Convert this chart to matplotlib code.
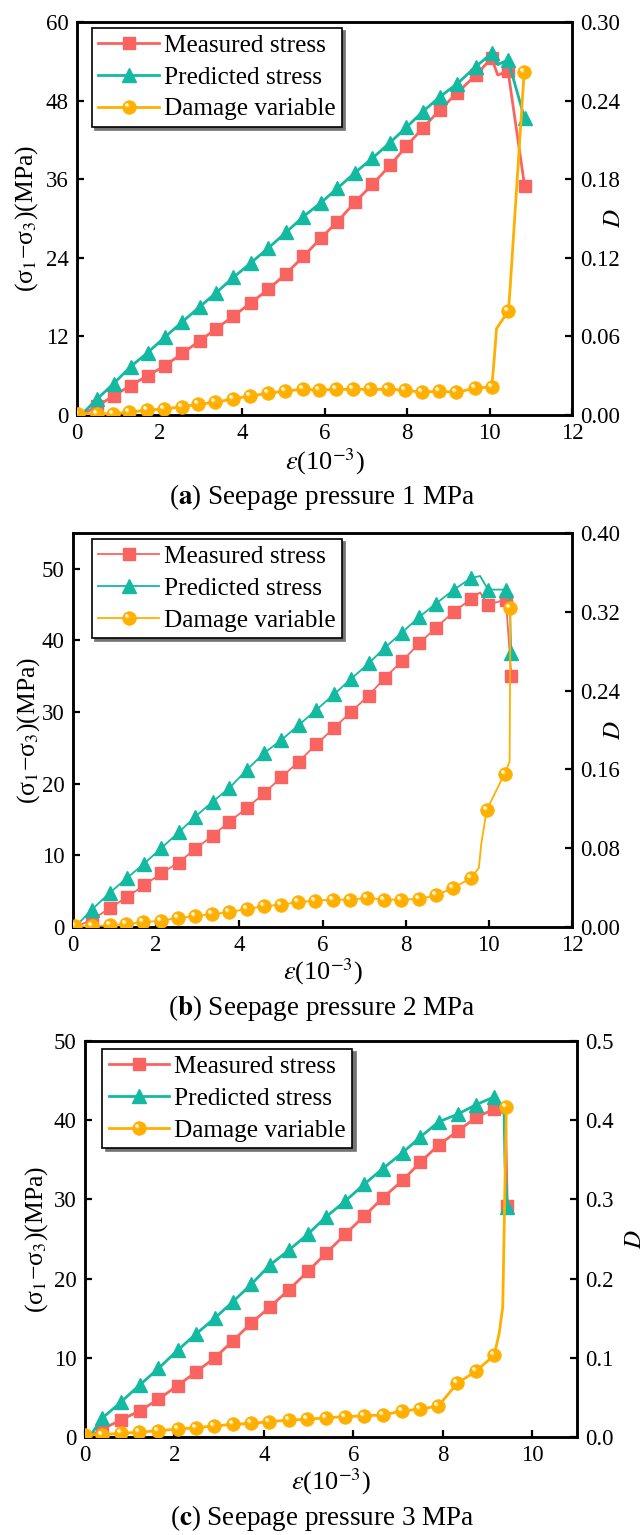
import numpy as np
import matplotlib
matplotlib.use('Agg')
import matplotlib.pyplot as plt
from matplotlib.path import Path
from matplotlib.lines import Line2D
from matplotlib.legend_handler import HandlerTuple
from matplotlib.ticker import FormatStrFormatter

plt.rcParams['font.family'] = ['Liberation Serif', 'DejaVu Serif']
plt.rcParams['mathtext.fontset'] = 'stix'

# ---------------- data ----------------
labels = ['Measured stress', 'Predicted stress', 'Damage variable']
captions = [('a', 'Seepage pressure 1 MPa'), ('b', 'Seepage pressure 2 MPa'),
            ('c', 'Seepage pressure 3 MPa')]

# panel (a)
a_x = [0.48, 0.89, 1.30, 1.71, 2.13, 2.55, 2.97, 3.38, 3.79, 4.21, 4.64, 5.07, 5.49,
       5.91, 6.31, 6.74, 7.16, 7.59, 7.98, 8.38, 8.80, 9.22, 9.67, 10.05, 10.45, 10.85]
a_meas = [1.3, 2.95, 4.5, 6.0, 7.5, 9.4, 11.3, 13.2, 15.1, 17.1, 19.2, 21.6, 24.2,
          27.0, 29.5, 32.5, 35.2, 38.1, 41.0, 43.8, 46.6, 49.2, 51.9, 54.5, 52.5, 35.0]
a_pred = [2.4, 4.8, 7.4, 9.5, 11.9, 14.2, 16.5, 18.7, 21.0, 23.2, 25.5, 27.9, 30.3,
          32.4, 34.6, 37.0, 39.2, 41.6, 43.9, 46.3, 48.6, 50.6, 53.2, 55.2, 54.2, 45.3]
a_meas_ex_x, a_meas_ex_y = [0.1, 10.2], [0.0, 51.9]
a_pred_ex_x, a_pred_ex_y = [0.1, 10.2], [0.0, 53.5]
a_dx = [0.03, 0.48, 0.88, 1.27, 1.70, 2.12, 2.55, 2.94, 3.35, 3.77, 4.19, 4.62, 5.04,
        5.47, 5.87, 6.28, 6.68, 7.10, 7.53, 7.95, 8.36, 8.78, 9.19, 9.65, 10.05, 10.46, 10.84]
a_D = [0.001, 0.0008, 0.001, 0.002, 0.0038, 0.0046, 0.0063, 0.0082, 0.0097, 0.0122,
       0.0145, 0.0165, 0.0183, 0.0196, 0.019, 0.0196, 0.0196, 0.0196, 0.0196, 0.019,
       0.0173, 0.0183, 0.0173, 0.0204, 0.0216, 0.0794, 0.2616]
a_D_ex_x, a_D_ex_y = [10.08, 10.12, 10.17, 10.50], [0.030, 0.045, 0.066, 0.097]

# panel (b)
b_x = [0.45, 0.88, 1.30, 1.71, 2.12, 2.54, 2.94, 3.36, 3.76, 4.18, 4.60, 5.01, 5.43,
       5.85, 6.28, 6.68, 7.11, 7.50, 7.91, 8.33, 8.73, 9.16, 9.57, 9.98, 10.41, 10.54]
b_meas = [1.0, 2.6, 4.2, 5.8, 7.5, 9.0, 10.9, 12.75, 14.7, 16.6, 18.7, 20.9, 23.1,
          25.5, 27.8, 30.0, 32.3, 34.8, 37.1, 39.6, 41.8, 44.0, 45.8, 45.0, 45.7, 35.1]
b_pred = [2.4, 4.75, 6.85, 8.85, 11.0, 13.2, 15.4, 17.5, 19.4, 21.95, 24.3, 26.1, 28.2,
          30.3, 32.5, 34.6, 36.8, 39.0, 41.1, 43.3, 45.15, 47.1, 48.7, 47.1, 47.1, 38.2]
b_meas_ex_x, b_meas_ex_y = [0.05, 9.79], [0.0, 46.7]
b_pred_ex_x, b_pred_ex_y = [0.05, 9.79, 10.50], [0.0, 49.0, 46.0]
b_dx = [0.05, 0.45, 0.88, 1.28, 1.69, 2.12, 2.52, 2.94, 3.35, 3.75, 4.18, 4.60, 4.99,
        5.41, 5.83, 6.25, 6.66, 7.08, 7.49, 7.88, 8.33, 8.73, 9.15, 9.57, 9.95, 10.38, 10.52]
b_D = [0.0007, 0.0007, 0.0017, 0.003, 0.0048, 0.0065, 0.0092, 0.0109, 0.0133, 0.0149,
       0.0184, 0.021, 0.0227, 0.0251, 0.0268, 0.0278, 0.0278, 0.0295, 0.0278, 0.0278,
       0.0285, 0.0322, 0.0397, 0.0498, 0.119, 0.1557, 0.324]
b_D_ex_x, b_D_ex_y = [9.76, 9.82, 10.50], [0.060, 0.085, 0.168]

# panel (c)
c_x = [0.38, 0.80, 1.22, 1.64, 2.07, 2.48, 2.90, 3.30, 3.72, 4.13, 4.56, 4.98, 5.39,
       5.82, 6.24, 6.66, 7.10, 7.50, 7.91, 8.33, 8.74, 9.15, 9.44]
c_meas = [0.97, 2.14, 3.3, 4.75, 6.5, 8.2, 10.0, 12.1, 14.4, 16.4, 18.6, 20.9, 23.2,
          25.6, 27.9, 30.2, 32.4, 34.7, 36.9, 38.6, 40.35, 41.4, 29.2]
c_pred = [2.35, 4.4, 6.55, 8.65, 10.95, 13.0, 15.0, 17.05, 19.3, 21.7, 23.6, 25.6, 27.8,
          29.8, 31.9, 33.9, 35.9, 37.9, 39.8, 40.75, 41.95, 42.95, 29.0]
c_meas_ex_x, c_meas_ex_y = [0.1, 9.40], [0.0, 40.8]
c_pred_ex_x, c_pred_ex_y = [0.1, 9.37, 9.39], [0.0, 40.8, 34.5]
c_dx = [0.0, 0.37, 0.80, 1.21, 1.64, 2.07, 2.48, 2.89, 3.30, 3.71, 4.12, 4.56, 4.97,
        5.39, 5.82, 6.23, 6.66, 7.08, 7.49, 7.90, 8.32, 8.74, 9.15, 9.42]
c_D = [0.003, 0.003, 0.0046, 0.006, 0.008, 0.010, 0.0118, 0.0139, 0.016, 0.0172,
       0.0193, 0.0214, 0.0223, 0.0244, 0.0256, 0.0269, 0.0277, 0.0328, 0.0353, 0.039,
       0.0677, 0.083, 0.1034, 0.4165]
c_D_ex_x, c_D_ex_y = [9.26, 9.34], [0.131, 0.164]

# ---------------- style ----------------
RED, TEAL, ORANGE = '#FA6460', '#14B9A1', '#FFAF00'
HL_MID, HL_TOP = '#FFD45E', '#FFF6DA'
W, H = 644, 1535
fig = plt.figure(figsize=(W / 100, H / 100), dpi=100)


def merge(x, y, ex, ey):
    xs = np.concatenate([np.asarray(x, float), np.asarray(ex, float)])
    ys = np.concatenate([np.asarray(y, float), np.asarray(ey, float)])
    flag = np.r_[np.ones(len(x), bool), np.zeros(len(ex), bool)]
    order = np.argsort(xs, kind='stable')
    return xs[order], ys[order], list(np.flatnonzero(flag[order]))


def hl_path(off, rad):
    t = np.linspace(0, 2 * np.pi, 48)
    verts = np.c_[-off + rad * np.cos(t), off + rad * np.sin(t)]
    return Path(verts, closed=True)


HL1 = hl_path(0.25, 0.25)      # pale large highlight
HL2 = hl_path(0.3125, 0.1875)  # white small highlight
MS_SQ, MS_TRI, MS_CIR = 9.2, 10.5, 9.8


def panel(box, xlim, xt, ylim, yt, dlim, dt, dfmt, data, lw, cap, cap_y,
          ylab_x, xlab_y, dlab_x, leg_anchor):
    l, r, t, b = box
    ax = fig.add_axes([l / W, 1 - b / H, (r - l) / W, (b - t) / H])
    ax2 = ax.twinx()
    (x, meas, pred, mex, mey, pex, pey, dx, D, dex, dey) = data

    mx, my, mi = merge(x, meas, mex, mey)
    px, py, pi = merge(x, pred, pex, pey)
    qx, qy, qi = merge(dx, D, dex, dey)

    ax.plot(mx, my, color=RED, lw=lw, marker='s', ms=MS_SQ, markevery=mi,
            mec=RED, mfc=RED, zorder=3)
    ax.plot(px, py, color=TEAL, lw=lw, marker='^', ms=MS_TRI, markevery=pi,
            mec=TEAL, mfc=TEAL, zorder=4)
    ax2.plot(qx, qy, color=ORANGE, lw=lw, marker='o', ms=MS_CIR, markevery=qi,
             mec=ORANGE, mfc=ORANGE, mew=0.5, zorder=3)
    ax2.plot(qx, qy, ls='none', marker=HL1, ms=MS_CIR * 0.62, markevery=qi,
             mfc=HL_MID, mec='none', zorder=4)
    ax2.plot(qx, qy, ls='none', marker=HL2, ms=MS_CIR * 0.64, markevery=qi,
             mfc=HL_TOP, mec='none', zorder=5)

    ax.set_xlim(*xlim)
    ax.set_ylim(*ylim)
    ax2.set_ylim(*dlim)
    ax.set_xticks(xt)
    ax.set_yticks(yt)
    ax2.set_yticks(dt)
    ax2.yaxis.set_major_formatter(FormatStrFormatter(dfmt))

    for a in (ax, ax2):
        for s in a.spines.values():
            s.set_linewidth(1.8)
    ax.tick_params(direction='in', length=5, width=1.6, labelsize=16.5, pad=6,
                   top=False, right=False)
    ax2.tick_params(direction='in', length=5, width=1.6, labelsize=16.5, pad=6)

    ax.set_xlabel(r'$\varepsilon$(10$^{-3}$)', fontsize=19)
    ax.xaxis.set_label_coords(0.5, xlab_y)
    ax.set_ylabel('(σ$_1$−σ$_3$)(MPa)', fontsize=18.5)
    ax.yaxis.set_label_coords(ylab_x, 0.5)
    ax2.set_ylabel('$D$', fontsize=18)
    ax2.yaxis.set_label_coords(dlab_x, 0.5)

    # legend proxies (same styles, no markevery)
    p1 = Line2D([], [], color=RED, lw=lw, marker='s', ms=MS_SQ, mfc=RED, mec=RED)
    p2 = Line2D([], [], color=TEAL, lw=lw, marker='^', ms=MS_TRI, mfc=TEAL, mec=TEAL)
    p3 = Line2D([], [], color=ORANGE, lw=lw, marker='o', ms=MS_CIR, mfc=ORANGE,
                mec=ORANGE, mew=0.5)
    p3a = Line2D([], [], ls='none', marker=HL1, ms=MS_CIR * 0.62, mfc=HL_MID, mec='none')
    p3b = Line2D([], [], ls='none', marker=HL2, ms=MS_CIR * 0.64, mfc=HL_TOP, mec='none')

    leg = ax2.legend([p1, p2, (p3, p3a, p3b)], labels, loc='upper left',
                     bbox_to_anchor=leg_anchor, borderaxespad=0, fontsize=18.2,
                     handler_map={tuple: HandlerTuple(ndivide=1, pad=0)},
                     handlelength=2.4, handletextpad=0.2, borderpad=0.25,
                     labelspacing=0.36, fancybox=False, framealpha=1,
                     edgecolor='black',
                     shadow={'ox': 2.5, 'oy': -2.5, 'shade': 0.55, 'alpha': 1})
    leg.get_frame().set_linewidth(1.2)
    leg.set_zorder(10)

    fig.text(322 / W, 1 - cap_y / H,
             r'($\mathbf{' + cap[0] + '}$) ' + cap[1],
             ha='center', va='center', fontsize=19.5)
    return ax, ax2


panel((77, 572, 22, 415), (0, 12), range(0, 13, 2), (0, 60), range(0, 61, 12),
      (0, 0.30), np.arange(0, 0.301, 0.06), '%.2f',
      (a_x, a_meas, a_pred, a_meas_ex_x, a_meas_ex_y, a_pred_ex_x, a_pred_ex_y,
       a_dx, a_D, a_D_ex_x, a_D_ex_y), 2.0, captions[0], 497,
      -0.075, -0.08, 1.062, (0.030, 0.985))

panel((73, 572, 533, 927), (0, 12), range(0, 13, 2), (0, 55), range(0, 51, 10),
      (0, 0.40), np.arange(0, 0.401, 0.08), '%.2f',
      (b_x, b_meas, b_pred, b_meas_ex_x, b_meas_ex_y, b_pred_ex_x, b_pred_ex_y,
       b_dx, b_D, b_D_ex_x, b_D_ex_y), 1.3, captions[1], 1008,
      -0.062, -0.076, 1.062, (0.038, 0.985))

panel((85, 577, 1041, 1437), (0, 11), range(0, 11, 2), (0, 50), range(0, 51, 10),
      (0, 0.5), np.arange(0, 0.501, 0.1), '%.1f',
      (c_x, c_meas, c_pred, c_meas_ex_x, c_meas_ex_y, c_pred_ex_x, c_pred_ex_y,
       c_dx, c_D, c_D_ex_x, c_D_ex_y), 2.0, captions[2], 1518,
      -0.071, -0.075, 1.096, (0.035, 0.98))

fig.savefig('out.png', dpi=100)
